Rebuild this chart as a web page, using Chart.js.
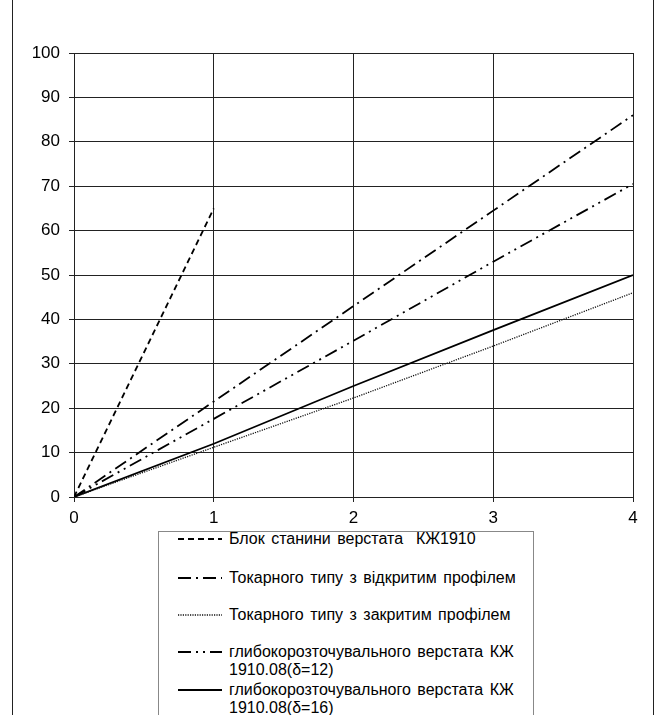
<!DOCTYPE html>
<html>
<head>
<meta charset="utf-8">
<script src="https://cdn.jsdelivr.net/npm/chart.js@4"></script>
<style>
  body { margin: 0; background: #fff; font-family: "Liberation Sans", Arial, sans-serif; }
  #page { position: relative; width: 661px; height: 715px; overflow: hidden; }
  #chart { position: absolute; left: 0; top: 0; }
  .frame { position: absolute; top: 0; width: 1px; height: 715px; background: #222; }
  #legend { position: absolute; left: 158px; top: 531px; width: 374px; height: 200px;
            border: 1px solid #888; background: #fff; }
  .item { position: absolute; left: 0; right: 0; font-size: 16px; line-height: 17.5px; color: #000; }
  .item svg { position: absolute; left: 19px; top: 0; }
  .item .txt { position: absolute; left: 70px; right: 4px; white-space: pre; word-spacing: 2px; }
</style>
</head>
<body>
<div id="page">
  <canvas id="chart" width="661" height="530"></canvas>
  <div class="frame" style="left:12px"></div>
  <div class="frame" style="left:653px"></div>
  <div id="legend"></div>
</div>
<script>
// ---- DATA ----
const labels = [
  'Блок станини верстата  КЖ1910',
  'Токарного типу з відкритим профілем',
  'Токарного типу з закритим профілем',
  'глибокорозточувального верстата КЖ\n1910.08(δ=12)',
  'глибокорозточувального верстата КЖ\n1910.08(δ=16)'
];
const xBlock = [0, 1];
const yBlock = [0, 65];
const xValues = [0, 1, 2, 3, 4];
const yOpen = [0, 21.5, 43, 64.5, 86];
const yClosed = [0, 11.2, 22.3, 34, 46];
const yDeep12 = [0, 17.6, 35.2, 53, 70.5];
const yDeep16 = [0, 12, 25, 37.6, 50];
const xTicks = [0, 1, 2, 3, 4];
const yTicks = [0, 10, 20, 30, 40, 50, 60, 70, 80, 90, 100];

// ---- STYLES ----
const styles = [
  { dash: [6, 4], width: 1.8, color: '#000' },
  { dash: [13, 5, 2, 5], width: 1.8, color: '#000' },
  { dash: [1.2, 1.2], width: 1.3, color: '#111' },
  { dash: [13, 5, 2, 5, 2, 5], width: 1.8, color: '#000' },
  { dash: [], width: 1.8, color: '#000' }
];

const pts = (xs, ys) => xs.map((x, i) => ({ x: x, y: ys[i] }));
const series = [
  pts(xBlock, yBlock),
  pts(xValues, yOpen),
  pts(xValues, yClosed),
  pts(xValues, yDeep12),
  pts(xValues, yDeep16)
];

const font = { family: '"Liberation Sans", Arial, sans-serif', size: 17 };

new Chart(document.getElementById('chart'), {
  type: 'scatter',
  data: {
    datasets: series.map((d, i) => ({
      label: labels[i],
      data: d,
      showLine: true,
      borderColor: styles[i].color,
      borderWidth: styles[i].width,
      borderDash: styles[i].dash,
      pointRadius: 0,
      tension: 0,
      fill: false
    }))
  },
  options: {
    responsive: false,
    animation: false,
    layout: { padding: { top: 53, right: 28, left: 0, bottom: 0 } },
    plugins: { legend: { display: false }, tooltip: { enabled: false } },
    scales: {
      x: {
        type: 'linear', min: 0, max: 4,
        afterBuildTicks: s => { s.ticks = xTicks.map(v => ({ value: v })); },
        afterFit: s => { s.height = 33; },
        ticks: { color: '#000', font: font, padding: 6 },
        grid: { color: '#222', lineWidth: 1, tickLength: 5 },
        border: { color: '#222' }
      },
      y: {
        min: 0, max: 100,
        afterBuildTicks: s => { s.ticks = yTicks.map(v => ({ value: v })); },
        afterFit: s => { s.width = 74; },
        ticks: { color: '#000', font: font, padding: 9 },
        grid: { color: '#222', lineWidth: 1, tickLength: 5 },
        border: { color: '#222' }
      }
    }
  }
});

// ---- LEGEND ----
const itemTops = [-2, 37, 74, 111, 149];
const legend = document.getElementById('legend');
labels.forEach((text, i) => {
  const st = styles[i];
  const item = document.createElement('div');
  item.className = 'item';
  item.style.top = itemTops[i] + 'px';
  item.innerHTML =
    '<svg width="44" height="18"><line x1="0" y1="9" x2="44" y2="9" stroke="' + st.color +
    '" stroke-width="' + st.width + '" stroke-dasharray="' + (st.dash.join(' ') || 'none') + '"/></svg>' +
    '<div class="txt"></div>';
  item.querySelector('.txt').textContent = text;
  legend.appendChild(item);
});
</script>
</body>
</html>
